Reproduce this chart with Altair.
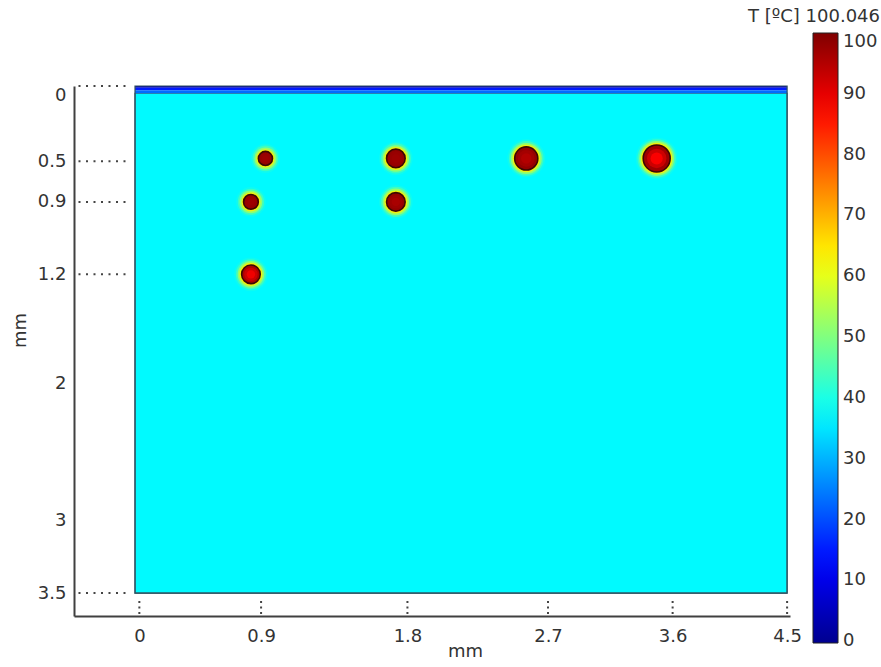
import altair as alt
import pandas as pd
import numpy as np

# ---------------- data (mm, degC) ----------------
domain_width = 4.5
domain_depth = 3.5
bulk_T = 37.0

# thin cooled layer at the surface
strip_top = [0.0, 0.012, 0.030]
strip_bottom = [0.012, 0.030, 0.050]
strip_T = [3.0, 15.0, 23.0]

# heat sources
src_x = [0.9, 1.8, 2.7, 3.6, 0.8, 1.8, 0.8]
src_y = [0.5, 0.5, 0.5, 0.5, 0.8, 0.8, 1.3]
src_d = [0.11, 0.145, 0.18, 0.21, 0.115, 0.145, 0.145]
src_T_rim = [98, 98, 98, 97, 98, 98, 96]
src_T_center = [97, 97, 95, 88, 97, 96, 89]

# axis annotations
x_tick_pos = [0.03, 0.87, 1.88, 2.85, 3.71, 4.5]
x_tick_text = ["0", "0.9", "1.8", "2.7", "3.6", "4.5"]
y_tick_pos = [0.0, 0.52, 0.8, 1.3, 2.05, 3.0, 3.5]
y_tick_text = ["0", "0.5", "0.9", "1.2", "2", "3", "3.5"]
y_dotted = [0.0, 0.52, 0.8, 1.3, 3.5]

# colour bar
T_max = 100.046
bar_floor, bar_ceiling = -0.3, 100.0
legend_values = [0, 10, 20, 30, 40, 50, 60, 70, 80, 90, 100]
legend_title = "T [ºC] 100.046"

# ---------------- layout / style ----------------
W, H = 716, 530
x_min, x_max = -0.421, 4.52
y_min, y_max = 0.0, 3.658
px_per_mm = W / (x_max - x_min)

FONT = "DejaVu Sans"
TXT = "#333333"
AX = "#404040"

jet_dom = [bar_floor, 12.5, 37.5, 62.5, 87.5, bar_ceiling]
jet_rng = ["#00008f", "#0000ff", "#00ffff", "#ffff00", "#ff0000", "#800000"]
cscale = alt.Scale(domain=jet_dom, range=jet_rng, interpolate="rgb", clamp=True)

def js_list(v):
    return "[" + ",".join(repr(a) if isinstance(a, str) else str(a) for a in v) + "]"

x_axis = alt.Axis(
    values=x_tick_pos,
    labelExpr=f"{js_list(x_tick_text)}[indexof({js_list(x_tick_pos)}, datum.value)]",
    title="mm", grid=False, ticks=False, domain=True, domainColor=AX, domainWidth=2,
    labelFont=FONT, labelFontSize=18, labelColor=TXT, labelPadding=11,
    titleFont=FONT, titleFontSize=18, titleColor=TXT, titleFontWeight="normal",
    titleX=391, titleY=35, titleBaseline="middle", titleAlign="center",
    labelFlush=False,
)
y_axis = alt.Axis(
    values=y_tick_pos,
    labelExpr=f"{js_list(y_tick_text)}[indexof({js_list(y_tick_pos)}, datum.value)]",
    title="mm", grid=False, ticks=False, domain=True, domainColor=AX, domainWidth=2,
    labelFont=FONT, labelFontSize=18, labelColor=TXT, labelPadding=8,
    titleFont=FONT, titleFontSize=18, titleColor=TXT, titleFontWeight="normal",
    titleX=-54, titleY=244, titleAngle=270, titleBaseline="middle", titleAlign="center",
    labelFlush=True,
)
xs = alt.Scale(domain=[x_min, x_max], nice=False, zero=False)
ys = alt.Scale(domain=[y_min, y_max], reverse=True, nice=False, zero=False)

def X(f="x"):
    return alt.X(f, type="quantitative", scale=xs, axis=x_axis)

def Y(f="y"):
    return alt.Y(f, type="quantitative", scale=ys, axis=y_axis)

legend = alt.Legend(
    title=None, orient="none", legendX=739, legendY=-53,
    direction="vertical", gradientLength=610, gradientThickness=25,
    gradientStrokeColor="#222222", gradientStrokeWidth=1,
    values=legend_values, labelFont=FONT, labelFontSize=18, labelColor=TXT,
    labelOffset=5,
)

def C(legend_on=False):
    return alt.Color("T", type="quantitative", scale=cscale,
                     legend=legend if legend_on else None)

# ---------------- frames ----------------
bulk_df = pd.DataFrame({"x": [0.0], "x2": [domain_width], "y": [strip_bottom[-1]],
                        "y2": [domain_depth], "T": [bulk_T]})
strip_df = pd.DataFrame({"x": [0.0] * len(strip_T), "x2": [domain_width] * len(strip_T),
                         "y": strip_top, "y2": strip_bottom, "T": strip_T})
outline_df = pd.DataFrame({"x": [0.0], "x2": [domain_width], "y": [0.0], "y2": [domain_depth],
                           "T": [bulk_T]})

halo_extra = [17, 13, 9, 5]
halo_T = [42, 48, 56, 64]
halo_op = [0.3, 0.5, 0.65, 0.85]
halo_rows = []
for i in range(len(src_x)):
    dpx = src_d[i] * px_per_mm
    for k in range(len(halo_extra)):
        r = (dpx + halo_extra[k]) / 2
        halo_rows.append({"x": src_x[i], "y": src_y[i], "T": halo_T[k], "op": halo_op[k],
                          "size": np.pi * r * r, "lvl": k})
halo_df = pd.DataFrame(halo_rows)

core_df = pd.DataFrame({"x": src_x, "y": src_y, "T": src_T_rim,
                        "size": [np.pi * (d * px_per_mm / 2) ** 2 for d in src_d]})
mid_df = pd.DataFrame({"x": src_x, "y": src_y,
                       "T": [(a + b) / 2 for a, b in zip(src_T_rim, src_T_center)],
                       "size": [np.pi * (0.72 * d * px_per_mm / 2) ** 2 for d in src_d]})
inner_df = pd.DataFrame({"x": src_x, "y": src_y, "T": src_T_center,
                         "size": [np.pi * (0.45 * d * px_per_mm / 2) ** 2 for d in src_d]})

ydot_df = pd.DataFrame({"y": y_dotted, "x": [-0.39] * len(y_dotted), "x2": [-0.05] * len(y_dotted)})
xdot_df = pd.DataFrame({"x": x_tick_pos, "y": [3.555] * len(x_tick_pos), "y2": [3.645] * len(x_tick_pos)})

# ---------------- layers ----------------
bulk = alt.Chart(bulk_df).mark_rect(stroke="#2f6470", strokeWidth=1.2).encode(
    x=X(), x2="x2", y=Y(), y2="y2", color=C(True))
strips = alt.Chart(strip_df).mark_rect().encode(
    x=X(), x2="x2", y=Y(), y2="y2", color=C())
outline = alt.Chart(outline_df).mark_rect(filled=False, stroke="#2f5060", strokeWidth=1.2).encode(
    x=X(), x2="x2", y=Y(), y2="y2")
halo = alt.Chart(halo_df).mark_circle().encode(
    x=X(), y=Y(), color=C(), size=alt.Size("size", type="quantitative", scale=None),
    opacity=alt.Opacity("op", type="quantitative", scale=None),
    order=alt.Order("lvl", type="quantitative"))
core = alt.Chart(core_df).mark_circle(opacity=1, stroke="#3b0800", strokeWidth=1.6).encode(
    x=X(), y=Y(), color=C(), size=alt.Size("size", type="quantitative", scale=None))
mid = alt.Chart(mid_df).mark_circle(opacity=1).encode(
    x=X(), y=Y(), color=C(), size=alt.Size("size", type="quantitative", scale=None))
inner = alt.Chart(inner_df).mark_circle(opacity=1).encode(
    x=X(), y=Y(), color=C(), size=alt.Size("size", type="quantitative", scale=None))
ydots = alt.Chart(ydot_df).mark_rule(color="#444444", strokeWidth=2, strokeDash=[2, 5.5]).encode(
    x=X(), x2="x2", y=Y())
xdots = alt.Chart(xdot_df).mark_rule(color="#444444", strokeWidth=2, strokeDash=[2, 3.5]).encode(
    x=X(), y=Y(), y2="y2")

chart = alt.layer(bulk, strips, outline, halo, core, mid, inner, ydots, xdots).properties(
    width=W, height=H,
    autosize=alt.AutoSizeParams(type="none"),
    padding={"left": 74, "top": 86, "right": 91, "bottom": 51},
    background="white",
    title=alt.TitleParams(legend_title, anchor="end", frame="group", orient="top",
                          dx=90, offset=7, font=FONT, fontSize=18, fontWeight="normal",
                          color=TXT),
).configure_view(stroke=None)

chart.save("out.html", embed_options={"renderer": "svg", "actions": False})
